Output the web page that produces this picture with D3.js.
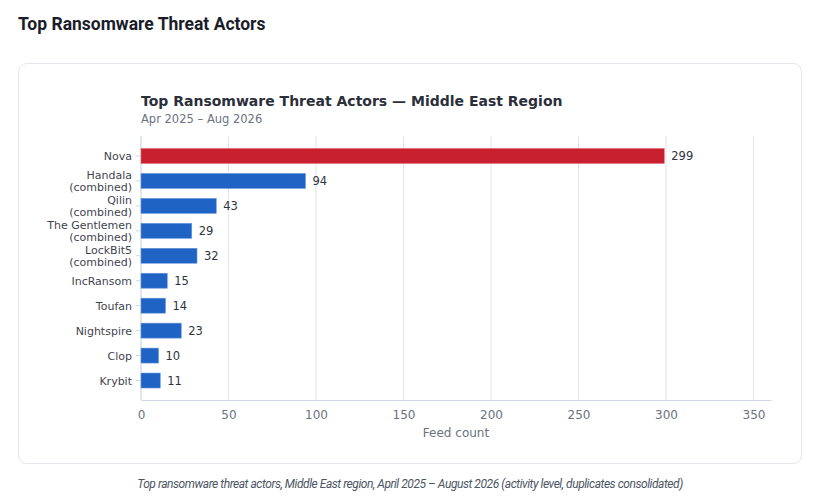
<!DOCTYPE html>
<html>
<head>
<meta charset="utf-8">
<script src="https://cdn.jsdelivr.net/npm/d3@7"></script>
<style>
  body { margin: 0; background: #fff; }
  svg text { font-family: "DejaVu Sans", sans-serif; }
  .page-title { font-family: Roboto, sans-serif; font-weight: 700; font-size: 17.5px; fill: #1a1d29; }
  .caption { font-family: Roboto, sans-serif; font-style: italic; font-size: 12px; fill: #4b5563; letter-spacing: -0.45px; }
</style>
</head>
<body>
<div id="chart"></div>
<script>
var actors = ["Nova", "Handala\n(combined)", "Qilin\n(combined)", "The Gentlemen\n(combined)",
  "LockBit5\n(combined)", "IncRansom", "Toufan", "Nightspire", "Clop", "Krybit"];
var counts = [299, 94, 43, 29, 32, 15, 14, 23, 10, 11];
var xTicks = [0, 50, 100, 150, 200, 250, 300, 350];

var width = 817, height = 504;
var plot = {left: 141, right: 771, top: 136, bottom: 400};

var svg = d3.select("#chart").append("svg")
    .attr("width", width)
    .attr("height", height);

svg.append("text")
    .attr("class", "page-title")
    .attr("x", 18)
    .attr("y", 30)
    .text("Top Ransomware Threat Actors");

// card
svg.append("rect")
    .attr("x", 18.5).attr("y", 63.5)
    .attr("width", 783).attr("height", 400)
    .attr("rx", 8)
    .attr("fill", "#fff")
    .attr("stroke", "#e3e6ec");

svg.append("text")
    .attr("x", plot.left).attr("y", 105.5)
    .attr("font-size", "14px").attr("font-weight", "bold")
    .attr("fill", "#2b2f3a")
    .text("Top Ransomware Threat Actors \u2014 Middle East Region");

svg.append("text")
    .attr("x", plot.left).attr("y", 122.5)
    .attr("font-size", "11.5px")
    .attr("fill", "#6b7280")
    .text("Apr 2025 \u2013 Aug 2026");

var x = d3.scaleLinear()
    .domain([0, 360])
    .range([plot.left, plot.right]);

var y = d3.scaleBand()
    .domain(actors)
    .range([143.5, 393])
    .paddingInner(0.4)
    .paddingOuter(0.2);

// grid
svg.append("g")
  .selectAll("line")
  .data(xTicks.slice(1))
  .enter().append("line")
    .attr("x1", function(d) { return x(d); })
    .attr("x2", function(d) { return x(d); })
    .attr("y1", plot.top)
    .attr("y2", plot.bottom)
    .attr("stroke", "#e5e8ef")
    .attr("stroke-width", 1.2);

// x axis
var xAxis = svg.append("g")
    .attr("transform", "translate(0," + plot.bottom + ")")
    .call(d3.axisBottom(x).tickValues(xTicks).tickSize(0).tickPadding(10));
xAxis.select(".domain").attr("stroke", "#cfd6e2").attr("stroke-width", 1.2);
xAxis.selectAll("text").attr("font-size", "12px").attr("fill", "#6b7280")
    .style("font-family", "DejaVu Sans, sans-serif");

svg.append("text")
    .attr("x", (plot.left + plot.right) / 2)
    .attr("y", 437)
    .attr("text-anchor", "middle")
    .attr("font-size", "12px")
    .attr("fill", "#6b7280")
    .text("Feed count");

// y axis line + ticks
svg.append("line")
    .attr("x1", plot.left).attr("x2", plot.left)
    .attr("y1", plot.top).attr("y2", plot.bottom)
    .attr("stroke", "#cfd6e2").attr("stroke-width", 1.2);

var yLabels = svg.append("g");
actors.forEach(function(a) {
  var cy = y(a) + y.bandwidth() / 2;
  yLabels.append("line")
      .attr("x1", plot.left - 5).attr("x2", plot.left - 1)
      .attr("y1", cy).attr("y2", cy)
      .attr("stroke", "#cfd6e2");
  var lines = a.split("\n");
  var t = yLabels.append("text")
      .attr("text-anchor", "end")
      .attr("font-size", "11px")
      .attr("fill", "#3f4450");
  lines.forEach(function(l, i) {
    t.append("tspan")
        .attr("x", plot.left - 9)
        .attr("y", cy + 4 + (i - (lines.length - 1) / 2) * 12)
        .text(l);
  });
});

// bars
svg.append("g")
  .selectAll("rect")
  .data(actors)
  .enter().append("rect")
    .attr("x", x(0))
    .attr("y", function(d) { return y(d); })
    .attr("width", function(d, i) { return x(counts[i]) - x(0); })
    .attr("height", y.bandwidth())
    .attr("fill", function(d, i) { return i === 0 ? "#c8202f" : "#1f63c5"; })
    .attr("stroke", function(d, i) { return i === 0 ? "#e26a74" : "#6b98db"; })
    .attr("stroke-width", 0.6);

svg.append("g")
  .selectAll("text")
  .data(actors)
  .enter().append("text")
    .attr("x", function(d, i) { return x(counts[i]) + 7; })
    .attr("y", function(d) { return y(d) + y.bandwidth() / 2 + 4; })
    .attr("font-size", "11.5px")
    .attr("fill", "#2f333d")
    .text(function(d, i) { return counts[i]; });

svg.append("text")
    .attr("class", "caption")
    .attr("x", 410)
    .attr("y", 488)
    .attr("text-anchor", "middle")
    .text("Top ransomware threat actors, Middle East region, April 2025 \u2013 August 2026 (activity level, duplicates consolidated)");
</script>
</body>
</html>
